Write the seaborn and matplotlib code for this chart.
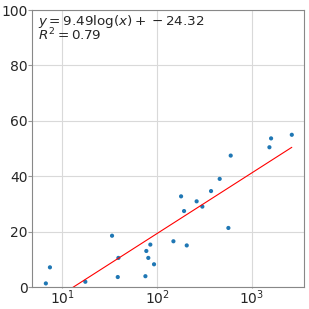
import numpy as np
import pandas as pd
import matplotlib
matplotlib.use("Agg")
import matplotlib.pyplot as plt
import seaborn as sns

x_vals = [6.7, 7.4, 17.5, 33.5, 39.1, 38.5, 75.4, 77.1, 80.9, 85.0, 93.0, 149,
          179.5, 193, 206, 262, 301, 372, 459, 567, 600, 1538, 1601, 2650]
y_vals = [1.4, 7.2, 2.0, 18.6, 10.6, 3.7, 4.0, 13.1, 10.6, 15.4, 8.3, 16.6,
          32.8, 27.5, 15.1, 31.0, 29.1, 34.7, 39.1, 21.4, 47.5, 50.5, 53.7, 55.0]
slope = 9.49
intercept = -24.32
r2 = 0.79

df = pd.DataFrame({"x": x_vals, "y": y_vals})

sns.set_theme(style="whitegrid")
plt.rcParams["font.family"] = ["DejaVu Sans"]

fig = plt.figure(figsize=(3.09, 3.09), dpi=100)
ax = fig.add_axes([32.3 / 309, 1 - 287.3 / 309, (304 - 32.3) / 309, (287.3 - 10) / 309])

sns.scatterplot(data=df, x="x", y="y", ax=ax, s=9, color="#1f77b4", edgecolor="none")
xs = np.logspace(np.log10(min(x_vals)), np.log10(max(x_vals)), 200)
line_df = pd.DataFrame({"x": xs, "y": slope * np.log(xs) + intercept})
sns.lineplot(data=line_df, x="x", y="y", ax=ax, color="red", linewidth=0.8)

ax.set_xscale("log")
ax.set_xlim(4.82, 3565)
ax.set_ylim(0, 100)
ax.set_yticks([0, 20, 40, 60, 80, 100])
ax.minorticks_off()
ax.set_xlabel("")
ax.set_ylabel("")
ax.tick_params(labelsize=10, width=0.8, color="#999999")
ax.tick_params(axis="y", length=3, pad=0.5, left=True)
ax.tick_params(axis="x", length=1, pad=0, bottom=True)
ax.grid(True, color="#d9d9d9", linewidth=0.8)
for s in ax.spines.values():
    s.set_color("#888888")
    s.set_linewidth(0.8)

label = f"$y = {slope:.2f}\\log(x) + {intercept:.2f}$\n$R^2 = {r2:.2f}$"
ax.text(0.02, (287.3 - 13.5) / 277.3, label, transform=ax.transAxes,
        va="top", ha="left", fontsize=9.7, linespacing=0.72)

fig.savefig("out.png", dpi=100)
